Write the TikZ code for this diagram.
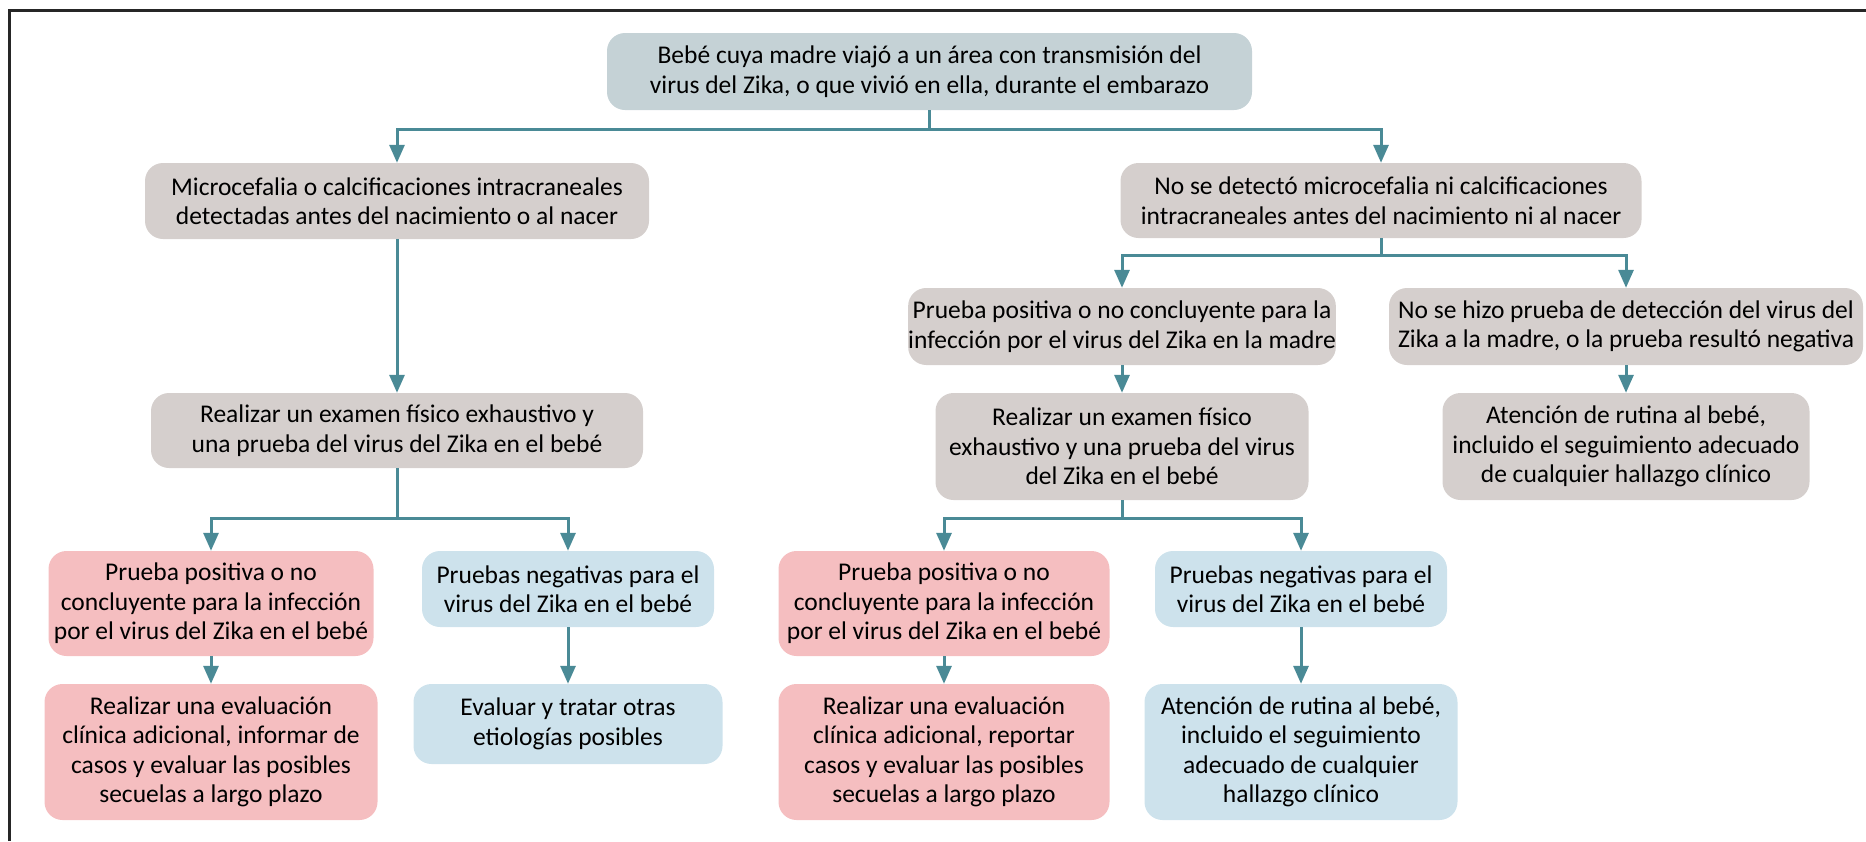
\documentclass[tikz,border=0pt]{standalone}
\usepackage{fontspec}
\setmainfont{Carlito}
\usetikzlibrary{arrows.meta}

\definecolor{azulgris}{RGB}{197,210,214}
\definecolor{gris}{RGB}{213,207,205}
\definecolor{rosa}{RGB}{245,190,192}
\definecolor{celeste}{RGB}{205,226,236}
\definecolor{verdeazul}{RGB}{74,138,150}

\tikzset{
  caja/.style={rounded corners=18pt, inner sep=0pt, align=center,
    font=\fontsize{25.5}{29.5}\selectfont},
  cajainicio/.style={caja, fill=azulgris},
  cajagris/.style={caja, fill=gris},
  cajarosa/.style={caja, fill=rosa},
  cajaceleste/.style={caja, fill=celeste},
  linea/.style={draw=verdeazul, line width=3pt},
  flecha/.style={linea, -{Triangle[width=15pt,length=18pt]}}
}

\begin{document}
\begin{tikzpicture}[x=1pt,y=-1pt]

\useasboundingbox (0,0) rectangle (1866,841);

% Marco
\draw[line width=3pt, black!85] (9,841) -- (9,10) -- (1866,10);

% Parametri
\def\forkbajo{518} % altura de las ramas inferiores

% Nivel superior
\node[cajainicio, minimum width=645, minimum height=77] (madre) at (929.5,71.5)
  {Bebé cuya madre viajó a un área con transmisión del\\virus del Zika, o que vivió en ella, durante el embarazo};

\node[cajagris, minimum width=504, minimum height=76] (micro) at (397,201)
  {Microcefalia o calcificaciones intracraneales\\detectadas antes del nacimiento o al nacer};
\node[cajagris, minimum width=521, minimum height=75] (nose) at (1381,200.5)
  {No se detectó microcefalia ni calcificaciones\\intracraneales antes del nacimiento ni al nacer};

% Rama derecha
\node[cajagris, minimum width=397, minimum height=77] (pmadre) at (1122,326.5)
  {Prueba positiva o no concluyente para la\\infección por el virus del Zika en la madre};
\node[cajagris, minimum width=474, minimum height=77] (nohizo) at (1626,326.5)
  {No se hizo prueba de detección del virus del\\Zika a la madre, o la prueba resultó negativa};
\node[cajagris, minimum width=373, minimum height=107] (realR) at (1122,446.5)
  {Realizar un examen físico\\exhaustivo y una prueba del virus\\del Zika en el bebé};
\node[cajagris, minimum width=367, minimum height=107] (atenA) at (1626,446.5)
  {Atención de rutina al bebé,\\incluido el seguimiento adecuado\\de cualquier hallazgo clínico};

% Rama izquierda
\node[cajagris, minimum width=492, minimum height=75] (realL) at (397,430.5)
  {Realizar un examen físico exhaustivo y\\una prueba del virus del Zika en el bebé};

% Resultados en el bebé
\node[cajarosa, minimum width=325, minimum height=105] (posL) at (211,603.5)
  {Prueba positiva o no\\concluyente para la infección\\por el virus del Zika en el bebé};
\node[cajaceleste, minimum width=292, minimum height=76] (negL) at (568,589)
  {Pruebas negativas para el\\virus del Zika en el bebé};
\node[cajarosa, minimum width=333, minimum height=136] (evalL) at (211,752)
  {Realizar una evaluación\\clínica adicional, informar de\\casos y evaluar las posibles\\secuelas a largo plazo};
\node[cajaceleste, minimum width=309, minimum height=80] (otras) at (568,724)
  {Evaluar y tratar otras\\etiologías posibles};

\node[cajarosa, minimum width=331, minimum height=105] (posR) at (944,603.5)
  {Prueba positiva o no\\concluyente para la infección\\por el virus del Zika en el bebé};
\node[cajaceleste, minimum width=292, minimum height=76] (negR) at (1301,589)
  {Pruebas negativas para el\\virus del Zika en el bebé};
\node[cajarosa, minimum width=331, minimum height=136] (evalR) at (944,752)
  {Realizar una evaluación\\clínica adicional, reportar\\casos y evaluar las posibles\\secuelas a largo plazo};
\node[cajaceleste, minimum width=313, minimum height=136] (atenB) at (1301,752)
  {Atención de rutina al bebé,\\incluido el seguimiento\\adecuado de cualquier\\hallazgo clínico};

% Bifurcaciones
\foreach \s/\yy/\l/\r in {madre/129/micro/nose, nose/255/pmadre/nohizo,
    realL/\forkbajo/posL/negL, realR/\forkbajo/posR/negR} {
  \draw[linea] (\s.south) -- (\s.south |- 0,\yy) coordinate (rama);
  \draw[flecha] (rama) -| (\l.north);
  \draw[flecha] (rama) -| (\r.north);
}

% Flechas directas
\foreach \a/\b in {micro/realL, pmadre/realR, nohizo/atenA,
    posL/evalL, negL/otras, posR/evalR, negR/atenB} {
  \draw[flecha] (\a.south) -- (\b.north);
}
\end{tikzpicture}
\end{document}
